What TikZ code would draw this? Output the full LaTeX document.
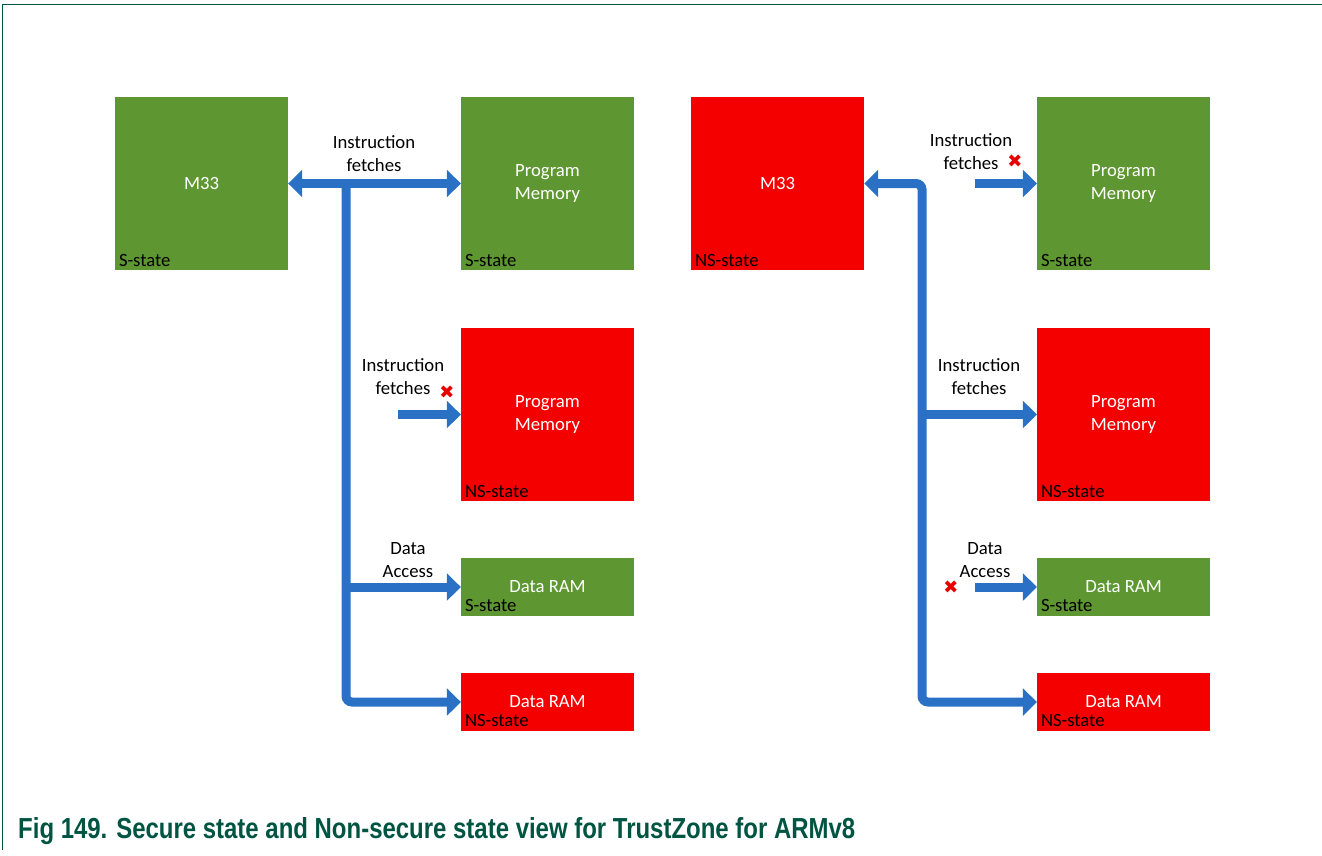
\documentclass[tikz,border=0pt]{standalone}
\usepackage{fontspec}
\usepackage{graphicx}
\setmainfont{Carlito}
\newfontfamily\capfont{Liberation Sans}
\newfontfamily\symfont{DejaVu Sans}
\usetikzlibrary{arrows.meta}
\definecolor{sgreen}{RGB}{94,151,50}
\definecolor{nsred}{RGB}{245,0,0}
\definecolor{arrblue}{RGB}{42,113,197}
\definecolor{capgreen}{RGB}{0,84,66}
\definecolor{xred}{RGB}{230,0,0}
\tikzset{
  box/.style={draw=none, minimum width=173pt, inner sep=0pt, text=white,
    font=\fontsize{18.7}{23}\selectfont, align=center},
  bigbox/.style={box, minimum height=173pt},
  smallbox/.style={box, minimum height=58pt},
  sbox/.style={fill=sgreen},
  nsbox/.style={fill=nsred},
  statelbl/.style={anchor=base west, inner sep=0pt, text=black,
    font=\fontsize{18.7}{23}\selectfont},
  lbl/.style={inner sep=0pt, text=black, align=center,
    font=\fontsize{18.7}{23}\selectfont},
  arr/.style={draw=arrblue, line width=9pt, -{Triangle[width=27pt,length=14pt]}},
  darr/.style={draw=arrblue, line width=9pt, rounded corners=6pt,
    {Triangle[width=27pt,length=14pt]}-{Triangle[width=27pt,length=14pt]}},
  xmark/.style={text=xred, inner sep=0pt, font=\symfont\fontsize{18}{18}\selectfont},
}
\begin{document}
\begin{tikzpicture}[x=1pt,y=-1pt]
\useasboundingbox (0,0) rectangle (1322,856);
% frame
\draw[capgreen, line width=1.5pt] (2.5,850) -- (2.5,4.5) -- (1322,4.5);

% ---------- left view ----------
\node[bigbox, sbox] (m33l) at (201.5,183.5) {M33};
\node[bigbox, sbox] (pmsl) at (547.5,183.5) {Program\\Memory};
\node[bigbox, nsbox] (pmnsl) at (547.5,414.5) {Program\\Memory};
\node[smallbox, sbox] (dsl) at (547.5,587) {Data RAM};
\node[smallbox, nsbox] (dnsl) at (547.5,702) {Data RAM};

\node[statelbl] (m33ls) at ([xshift=4pt,yshift=4pt]m33l.south west) {S-state};
\node[statelbl] (pmsls) at ([xshift=4pt,yshift=4pt]pmsl.south west) {S-state};
\node[statelbl] (pmnsls) at ([xshift=4pt,yshift=4pt]pmnsl.south west) {NS-state};
\node[statelbl] (dsls) at ([xshift=4pt,yshift=5pt]dsl.south west) {S-state};
\node[statelbl] (dnsls) at ([xshift=4pt,yshift=5pt]dnsl.south west) {NS-state};

\coordinate (jl) at (346,183.5);
\draw[darr] (m33l.east) -- (pmsl.west);
\draw[arr, rounded corners=6pt] (jl) |- (dnsl.west);
\coordinate (bl1) at (jl |- dsl.west);
\draw[arr] (bl1) -- (dsl.west);
\coordinate (sl1) at (398,414.5);
\draw[arr] (sl1) -- (pmnsl.west);

\node[lbl] (ifl1) at (374,154) {Instruction\\fetches};
\node[lbl] (ifl2) at (403,377) {Instruction\\fetches};
\node[lbl] (dal) at (408,560) {Data\\Access};
\node[xmark] (xl) at (447,392) {✖};

% ---------- right view ----------
\node[bigbox, nsbox] (m33r) at (777.5,183.5) {M33};
\node[bigbox, sbox] (pmsr) at (1123.5,183.5) {Program\\Memory};
\node[bigbox, nsbox] (pmnsr) at (1123.5,414.5) {Program\\Memory};
\node[smallbox, sbox] (dsr) at (1123.5,587) {Data RAM};
\node[smallbox, nsbox] (dnsr) at (1123.5,702) {Data RAM};

\node[statelbl] (m33rs) at ([xshift=4pt,yshift=4pt]m33r.south west) {NS-state};
\node[statelbl] (pmsrs) at ([xshift=4pt,yshift=4pt]pmsr.south west) {S-state};
\node[statelbl] (pmnsrs) at ([xshift=4pt,yshift=4pt]pmnsr.south west) {NS-state};
\node[statelbl] (dsrs) at ([xshift=4pt,yshift=5pt]dsr.south west) {S-state};
\node[statelbl] (dnsrs) at ([xshift=4pt,yshift=5pt]dnsr.south west) {NS-state};

\coordinate (tr) at (922,183.5);
\coordinate (br) at (tr |- dnsr.west);
\draw[darr] (m33r.east) -- (tr) -- (br) -- (dnsr.west);
\coordinate (br1) at (tr |- pmnsr.west);
\draw[arr] (br1) -- (pmnsr.west);
\coordinate (sr1) at (975,183.5);
\draw[arr] (sr1) -- (pmsr.west);
\coordinate (sr2) at (975,587);
\draw[arr] (sr2) -- (dsr.west);

\node[lbl] (ifr1) at (971,152) {Instruction\\fetches};
\node[lbl] (ifr2) at (979,377) {Instruction\\fetches};
\node[lbl] (dar) at (985,560) {Data\\Access};
\node[xmark] (xr1) at (1015,161) {✖};
\node[xmark] (xr2) at (951,587) {✖};

% caption
\node[anchor=base west, inner sep=0pt, text=capgreen] (cap) at (18,838)
  {\resizebox{837pt}{21pt}{\capfont\bfseries Fig 149. Secure state and Non-secure state view for TrustZone for ARMv8}};
\end{tikzpicture}
\end{document}
